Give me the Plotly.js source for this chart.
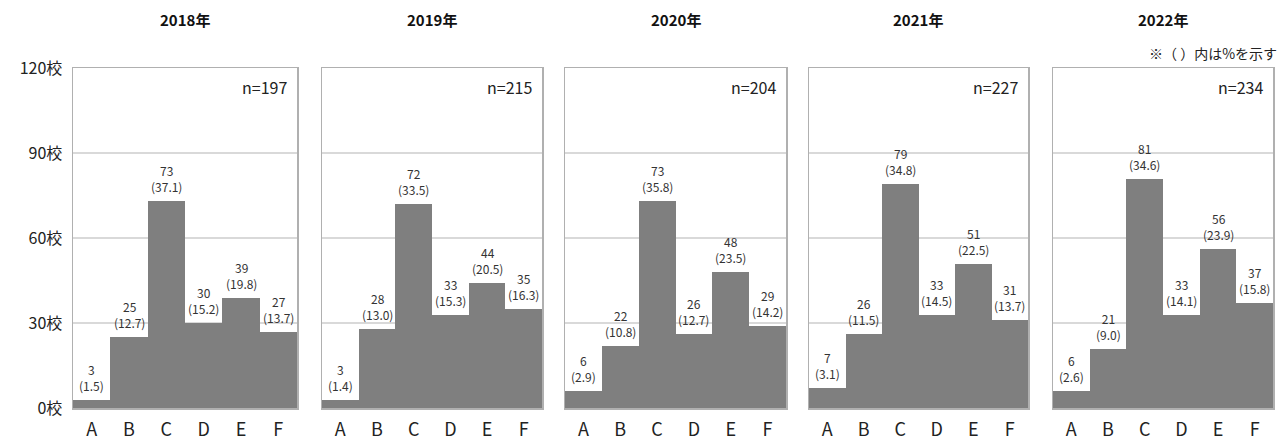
<!DOCTYPE html>
<html><head><meta charset="utf-8">
<script src="https://cdn.plot.ly/plotly-3.0.1.min.js"></script>
<style>html,body{margin:0;padding:0;background:#fff;}#chart{width:1283px;height:443px;}</style>
</head><body><div id="chart"></div>
<script>
const categories = ['A','B','C','D','E','F'];
const years = ['2018年','2019年','2020年','2021年','2022年'];
const nValues = [197,215,204,227,234];
const counts2018 = [3,25,73,30,39,27];
const pct2018 = ['1.5','12.7','37.1','15.2','19.8','13.7'];
const counts2019 = [3,28,72,33,44,35];
const pct2019 = ['1.4','13.0','33.5','15.3','20.5','16.3'];
const counts2020 = [6,22,73,26,48,29];
const pct2020 = ['2.9','10.8','35.8','12.7','23.5','14.2'];
const counts2021 = [7,26,79,33,51,31];
const pct2021 = ['3.1','11.5','34.8','14.5','22.5','13.7'];
const counts2022 = [6,21,81,33,56,37];
const pct2022 = ['2.6','9.0','34.6','14.1','23.9','15.8'];
const yTicks = [0,30,60,90,120];

const allCounts = [counts2018,counts2019,counts2020,counts2021,counts2022];
const allPct = [pct2018,pct2019,pct2020,pct2021,pct2022];

const W = 1283, H = 443;
const panelsPx = [[73,297],[322,542],[565,786],[809,1028],[1053,1273]];
const yTop = 68, yBot = 408;
const font = '"Noto Sans CJK JP", "Noto Sans", sans-serif';

const data = [];
const layout = {
  width: W, height: H,
  margin: {l:0,r:0,t:0,b:0},
  paper_bgcolor:'#fff', plot_bgcolor:'#fff',
  showlegend:false,
  bargap:0,
  font:{family:font, color:'#222'},
  annotations:[],
  shapes:[]
};
const yDomain = [(H-yBot)/H, (H-yTop)/H];

for (let i=0;i<5;i++){
  const sfx = i===0 ? '' : String(i+1);
  const xa = 'x'+sfx, ya = 'y'+sfx;
  data.push({
    type:'bar', x:categories, y:allCounts[i],
    xaxis:xa, yaxis:ya,
    marker:{color:'#7f7f7f', line:{width:0}},
    hoverinfo:'none'
  });
  allCounts[i].forEach((c,j)=>{
    layout.annotations.push({
      xref:xa, yref:ya, x:categories[j], y:c,
      text: c+'<br>('+allPct[i][j]+')',
      showarrow:false, yanchor:'bottom', xanchor:'center', yshift:4,
      font:{size:12, color:'#333', family:font}
    });
  });
  const dom = [panelsPx[i][0]/W, panelsPx[i][1]/W];
  layout['xaxis'+sfx] = {
    domain:dom, anchor:ya, type:'category',
    showgrid:false, zeroline:false,
    showline:true, mirror:true, linecolor:'#b0b0b0', linewidth:1.5,
    ticks:'outside', ticklen:5, tickcolor:'rgba(0,0,0,0)',
    tickfont:{size:18, color:'#222', family:font},
    fixedrange:true
  };
  layout['yaxis'+sfx] = {
    domain:yDomain, anchor:xa, range:[0,120],
    tickvals:yTicks, ticktext:yTicks.map(v=>v+'校'),
    showticklabels: i===0,
    tickfont:{size:16, color:'#222', family:font},
    ticks:'outside', ticklen:6, tickcolor:'rgba(0,0,0,0)',
    showgrid:true, gridcolor:'#d9d9d9', gridwidth:1.2,
    zeroline:false,
    showline:true, mirror:true, linecolor:'#b0b0b0', linewidth:1.5,
    fixedrange:true
  };
  layout.annotations.push({
    xref:'paper', yref:'paper',
    x:(dom[0]+dom[1])/2, y:(H-20)/H,
    text:'<b>'+years[i]+'</b>', showarrow:false,
    font:{size:15, color:'#111', family:font},
    xanchor:'center', yanchor:'middle'
  });
  layout.annotations.push({
    xref:'paper', yref:'paper',
    x:(panelsPx[i][1]-8)/W, y:(H-87)/H,
    text:'n='+nValues[i], showarrow:false,
    font:{size:16, color:'#222', family:font},
    xanchor:'right', yanchor:'middle'
  });
}
layout.annotations.push({
  xref:'paper', yref:'paper',
  x:1279/W, y:(H-53)/H,
  text:'※（ ）内は%を示す', showarrow:false,
  font:{size:14, color:'#222', family:font},
  xanchor:'right', yanchor:'middle'
});

Plotly.newPlot('chart', data, layout, {displayModeBar:false, staticPlot:true});
</script>
</body></html>
